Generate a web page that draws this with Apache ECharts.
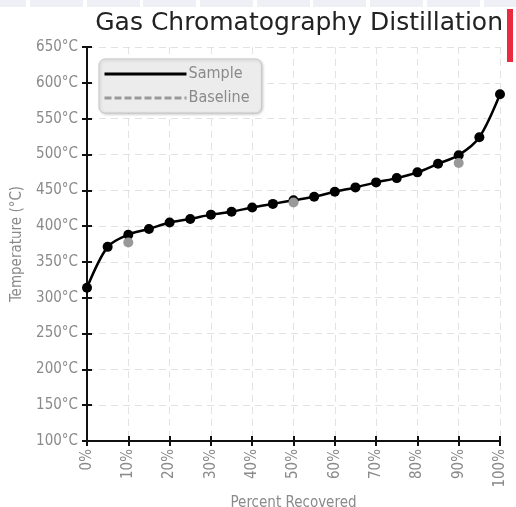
<!DOCTYPE html>
<html>
<head>
<meta charset="utf-8">
<script src="https://cdn.jsdelivr.net/npm/echarts@6/dist/echarts.min.js"></script>
<style>
html, body { margin: 0; padding: 0; background: #fff; }
#chart { width: 516px; height: 507px; }
</style>
</head>
<body>
<div id="chart"></div>
<script>
// 回收百分比
const samplePercent = [0, 5, 10, 15, 20, 25, 30, 35, 40, 45, 50, 55, 60, 65, 70, 75, 80, 85, 90, 95, 100]
// 样品温度 (°C)
const sampleTemp = [314, 371, 388, 396, 405, 410, 416, 420, 426, 431, 436, 441, 448, 454, 461, 467, 475, 487, 499, 524, 584]
// 基线
const basePercent = [10, 50, 90]
const baseTemp = [377, 433, 488]

const labelFont = '"DejaVu Sans Condensed", "Liberation Sans", sans-serif'
const grey = '#8a8a8a'

const sampleData = samplePercent.map((p, i) => [p, sampleTemp[i]])
const baseData = basePercent.map((p, i) => [p, baseTemp[i]])

// 顶部的灰色条
const stripEdges = [[0, 26], [30, 83], [87, 140], [143, 196], [200, 253], [257, 310], [313, 366], [370, 423], [427, 480], [484, 516]]
const strip = stripEdges.map(e => ({
  type: 'rect',
  shape: { x: e[0], y: 0, width: e[1] - e[0], height: 7 },
  style: { fill: '#eef0f5' },
  silent: true
}))

const myChart = echarts.init(document.getElementById('chart'))

const axisLine = { show: true, lineStyle: { color: '#111', width: 2 } }

const option = {
  animation: false,
  title: {
    text: 'Gas Chromatography Distillation',
    right: 8,
    top: 6,
    textStyle: { fontFamily: 'DejaVu Sans', fontWeight: 'normal', fontSize: 25, color: '#222' }
  },
  graphic: strip.concat([{
    type: 'rect',
    shape: { x: 507, y: 9, width: 6, height: 53 },
    style: { fill: '#ea2a3e' },
    silent: true
  }]),
  legend: {
    orient: 'vertical',
    left: 99,
    top: 59,
    padding: [7, 12, 7, 4],
    itemGap: 8,
    itemWidth: 82,
    itemHeight: 14,
    backgroundColor: '#ececec',
    borderColor: '#c8c8c8',
    borderWidth: 1,
    borderRadius: 6,
    shadowColor: 'rgba(0,0,0,0.2)',
    shadowBlur: 3,
    shadowOffsetX: 1,
    shadowOffsetY: 1,
    textStyle: { fontFamily: labelFont, fontSize: 16, color: grey, padding: [0, 0, 0, -3] },
    data: [
      { name: 'Sample', itemStyle: { opacity: 0 }, lineStyle: { color: '#000', width: 3, type: 'solid' } },
      { name: 'Baseline', itemStyle: { opacity: 0 }, lineStyle: { color: '#999', width: 3, type: [7, 3], opacity: 1 } }
    ]
  },
  grid: { left: 87, right: 16, top: 47, bottom: 66, outerBoundsMode: 'none' },
  xAxis: [{
    type: 'value',
    min: 0,
    max: 100,
    interval: 10,
    name: 'Percent Recovered',
    nameLocation: 'middle',
    nameGap: 52,
    nameTextStyle: { fontFamily: labelFont, fontSize: 15, color: grey },
    axisLine: axisLine,
    axisTick: { show: true, length: 5, lineStyle: { color: '#111', width: 2 } },
    axisLabel: { rotate: 90, formatter: '{value}%', fontFamily: labelFont, fontSize: 15, color: grey, margin: 8 },
    splitLine: { show: true, lineStyle: { color: '#e2e2e2', type: [7, 5] } }
  }, {
    type: 'value',
    position: 'bottom',
    min: 0,
    max: 100,
    interval: 10,
    axisLine: { show: false },
    axisTick: { show: true, inside: true, length: 5, lineStyle: { color: '#111', width: 2 } },
    axisLabel: { show: false },
    splitLine: { show: false }
  }],
  yAxis: [{
    type: 'value',
    min: 100,
    max: 650,
    interval: 50,
    name: 'Temperature (°C)',
    nameLocation: 'middle',
    nameGap: 62,
    nameTextStyle: { fontFamily: labelFont, fontSize: 15, color: grey },
    axisLine: axisLine,
    axisTick: { show: true, length: 5, lineStyle: { color: '#111', width: 2 } },
    axisLabel: { formatter: '{value}°C', fontFamily: labelFont, fontSize: 15, color: grey, margin: 9 },
    splitLine: { show: true, lineStyle: { color: '#e2e2e2', type: [7, 5] } }
  }, {
    type: 'value',
    position: 'left',
    min: 100,
    max: 650,
    interval: 50,
    axisLine: { show: false },
    axisTick: { show: true, inside: true, length: 5, lineStyle: { color: '#111', width: 2 } },
    axisLabel: { show: false },
    splitLine: { show: false }
  }],
  series: [{
    name: 'Sample',
    type: 'line',
    data: sampleData,
    smooth: 0.3,
    symbol: 'circle',
    symbolSize: 10,
    itemStyle: { color: '#000' },
    lineStyle: { color: '#000', width: 2.5 },
    z: 2
  }, {
    name: 'Baseline',
    type: 'line',
    data: baseData,
    symbol: 'circle',
    symbolSize: 10,
    itemStyle: { color: '#999' },
    lineStyle: { color: '#999', width: 2.5, type: 'dashed', opacity: 0 },
    z: 3
  }]
}

myChart.setOption(option)
</script>
</body>
</html>
